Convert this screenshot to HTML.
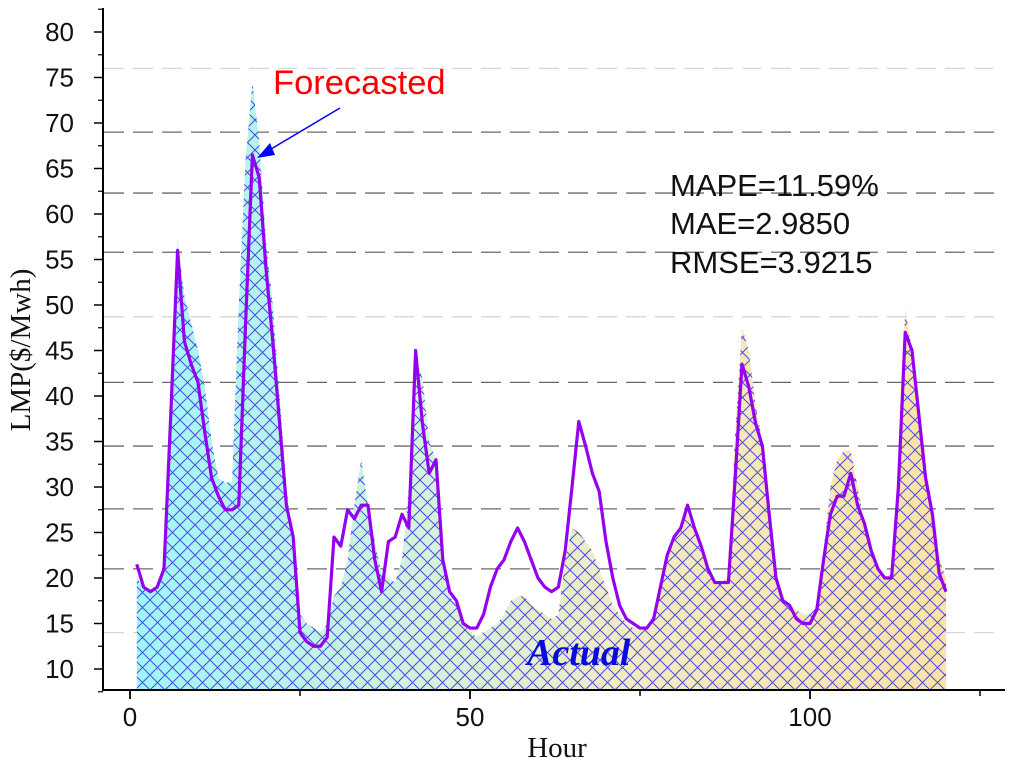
<!DOCTYPE html>
<html><head><meta charset="utf-8"><style>
html,body{margin:0;padding:0;background:#fff;}
svg{display:block;}
</style></head><body>
<svg id="chart" width="1024" height="765" xmlns="http://www.w3.org/2000/svg">
<defs>
<linearGradient id="fillGrad" x1="0" y1="0" x2="1" y2="0">
<stop offset="0" stop-color="#9ef6f8"/>
<stop offset="0.35" stop-color="#d4f2dc"/>
<stop offset="0.6" stop-color="#f2ebc4"/>
<stop offset="1" stop-color="#fde2a6"/>
</linearGradient>
<pattern id="hatch" width="15" height="15" patternUnits="userSpaceOnUse">
<path d="M0,0 L15,15 M15,0 L0,15" stroke="#4a4ae8" stroke-width="1" fill="none"/>
</pattern>
</defs>
<g id="grid"></g>
<g id="marks"></g>
<g id="axes"></g>
<text x="273" y="94" font-family="Liberation Sans, sans-serif" font-size="34.5" fill="#ff0000">Forecasted</text>
<line x1="340" y1="108" x2="266" y2="152" stroke="#0000ff" stroke-width="1.5"/>
<polygon points="257,158 270,143 275,155" fill="#0000ff"/>
<text x="670" y="196" font-family="Liberation Sans, sans-serif" font-size="31" fill="#111">MAPE=11.59%</text>
<text x="670" y="234" font-family="Liberation Sans, sans-serif" font-size="31" fill="#111">MAE=2.9850</text>
<text x="670" y="273" font-family="Liberation Sans, sans-serif" font-size="31" fill="#111">RMSE=3.9215</text>
<text x="527" y="665" font-family="Liberation Serif, serif" font-size="38" font-style="italic" font-weight="bold" fill="#0a0adc">Actual</text>
<text transform="translate(30,350) rotate(-90)" text-anchor="middle" font-family="Liberation Serif, serif" font-size="29" fill="#111">LMP($/Mwh)</text>
<text x="557" y="757" text-anchor="middle" font-family="Liberation Serif, serif" font-size="29" fill="#111">Hour</text>
</svg>
<script>
const hours = Array.from({length:120},(_, i)=>i+1);
const actual = [20,19,18.5,19,21,40,57,51,48,45,41,35,31,30.5,30.5,50,66,74.5,68,57,50,40,30,24,16,15,14.5,14,15,18,19,22,28,33,28,24,20.5,20,19.5,22,30,44,42,35,33,22,18,17,15,14,13.5,14,14.5,15,16,17.5,18,18,17,16.5,16,15.5,16,22,25.5,25,24,23,21,19,17,16,15,14.5,14.5,14.5,16,19,22,24,26,27,25,23,21,19.5,19.5,20,36,47.5,45,39,35,27,20,18,17,16.5,16,16,17,23,30,33,34,34,30,26,23,21,20,20.5,33,49.5,45,39,32,27,22,20];
const forecast = [21.5,19,18.5,19,21,38,56,46,43.5,41.5,36,31,29,27.5,27.5,28,48,66.5,64,54,46,37,28,24.5,14,13,12.5,12.5,13.5,24.5,23.5,27.5,26.5,28,28,22,18.5,24,24.5,27,25.5,45,37,31.5,33,22,18.5,17.5,15,14.5,14.5,16,19,21,22,24,25.5,24,22,20,19,18.5,19,23,30,37.2,34.5,31.5,29.5,24,20,17,15.5,15,14.5,14.5,15.5,19,22.5,24.5,25.5,28,25.5,23.5,21,19.5,19.5,19.5,31,43.5,41,37,34.5,27,20,17.5,17,15.5,15,15,16.5,22,27,29,29,31.5,28,26,23,21,20,20,30,47,45,38,31,27,20.5,18.5];
const yTicks = [10,15,20,25,30,35,40,45,50,55,60,65,70,75,80];
const xTicks = [0,50,100];
const gridValues = [76,69,62.3,55.8,48.7,41.5,34.5,27.6,21,14];

const NS='http://www.w3.org/2000/svg';
const X = h => 130 + 6.8*h;
const Y = v => 669 - (v-10)*9.1;
const base = 690;
function mk(tag, attrs, parent){const e=document.createElementNS(NS,tag);for(const k in attrs)e.setAttribute(k,attrs[k]);parent.appendChild(e);return e;}
const grid=document.getElementById('grid'), marks=document.getElementById('marks'), axes=document.getElementById('axes');

gridValues.forEach((g,i)=>{
  const light = (i===0||i===4||i===9);
  const l=mk('line',{x1:104,x2:1000,y1:Y(g),y2:Y(g),stroke:light?'#d8d8d8':'#6a6a6a','stroke-width':1.3,'stroke-dasharray':'20,9'},grid);
  
  
});

let d='M'+X(hours[0])+','+base;
hours.forEach((h,i)=>{d+=' L'+X(h)+','+Y(actual[i]);});
d+=' L'+X(hours[hours.length-1])+','+base+' Z';
const a1=mk('path',{d:d,fill:'url(#fillGrad)'},marks);


const a2=mk('path',{d:d,fill:'url(#hatch)'},marks);



const pts=hours.map((h,i)=>X(h)+','+Y(forecast[i])).join(' ');
const fl=mk('polyline',{points:pts,fill:'none',stroke:'#9400f0','stroke-width':3.2,'stroke-linejoin':'round'},marks);



const ya=mk('line',{x1:103,x2:103,y1:8,y2:base+1,stroke:'#000','stroke-width':2},axes);


const xa=mk('line',{x1:102,x2:1005,y1:base,y2:base,stroke:'#000','stroke-width':2},axes);



yTicks.forEach(v=>{
  const t=mk('line',{x1:94,x2:103,y1:Y(v),y2:Y(v),stroke:'#000','stroke-width':1.5},axes);
  
  
  const m=mk('line',{x1:98,x2:103,y1:Y(v+2.5),y2:Y(v+2.5),stroke:'#000','stroke-width':1.2},axes);
  
  
  const tx=mk('text',{x:74,y:Y(v)+9,'text-anchor':'end','font-family':'Liberation Sans, sans-serif','font-size':26,fill:'#111'},axes);
  tx.textContent=v;
  
  
});
const m0=mk('line',{x1:98,x2:103,y1:Y(7.5),y2:Y(7.5),stroke:'#000','stroke-width':1.2},axes);



xTicks.forEach(v=>{
  const t=mk('line',{x1:X(v),x2:X(v),y1:base,y2:base+9,stroke:'#000','stroke-width':1.8},axes);
  
  
  const m=mk('line',{x1:X(v+25),x2:X(v+25),y1:base,y2:base+6,stroke:'#000','stroke-width':1.5},axes);
  
  
  const tx=mk('text',{x:X(v),y:base+36,'text-anchor':'middle','font-family':'Liberation Sans, sans-serif','font-size':26,fill:'#111'},axes);
  tx.textContent=v;
  
  
});
</script>
</body></html>
